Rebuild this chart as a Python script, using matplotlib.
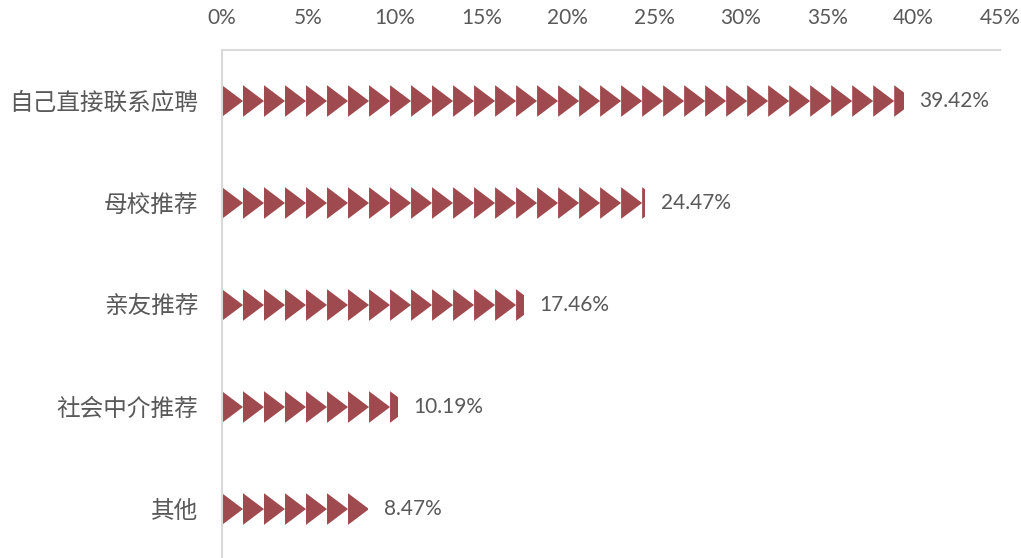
import math
import matplotlib
matplotlib.use("Agg")
import matplotlib.pyplot as plt
from matplotlib.patches import Polygon, Rectangle

plt.rcParams['font.family'] = ['Lato', 'Noto Sans CJK SC', 'DejaVu Sans']

# 数据
categories = ['自己直接联系应聘', '母校推荐', '亲友推荐', '社会中介推荐', '其他']
values = [39.42, 24.47, 17.46, 10.19, 8.47]
xticks = [0, 5, 10, 15, 20, 25, 30, 35, 40, 45]

bar_color = '#9E4A4E'
text_color = '#595959'
tri_w = 1.215  # 每个三角形的宽度（数据单位）
tri_h = 0.31   # 三角形高度（类别间距的比例）

fig = plt.figure(figsize=(10.21, 5.58), dpi=100)
ax = fig.add_axes([222 / 1021, 0, (1000 - 222) / 1021, 508 / 558])

for i, (cat, v) in enumerate(zip(categories, values)):
    clip = Rectangle((0, i - 0.5), v, 1.0, transform=ax.transData)
    n = math.ceil(v / tri_w)
    for k in range(n):
        x0 = k * tri_w
        tri = Polygon([(x0, i - tri_h / 2), (x0 + tri_w, i), (x0, i + tri_h / 2)],
                      closed=True, facecolor=bar_color, edgecolor='none')
        ax.add_patch(tri)
        tri.set_clip_path(clip)
    ax.text(v + 0.9, i, f'{v:.2f}%', va='center', ha='left',
            fontsize=15, color=text_color)

ax.set_xlim(0, 45)
ax.set_ylim(4.48, -0.5)
ax.set_xticks(xticks)
ax.set_xticklabels([f'{t}%' for t in xticks])
ax.set_yticks(range(len(categories)))
ax.set_yticklabels(categories)
ax.xaxis.tick_top()
ax.tick_params(axis='x', length=0, pad=16, labelsize=15, labelcolor=text_color)
ax.tick_params(axis='y', length=0, pad=17, labelsize=17, labelcolor=text_color)

for s in ['right', 'bottom']:
    ax.spines[s].set_visible(False)
for s in ['left', 'top']:
    ax.spines[s].set_color('#D9D9D9')
    ax.spines[s].set_linewidth(1.5)

plt.savefig('out.png', dpi=100)
